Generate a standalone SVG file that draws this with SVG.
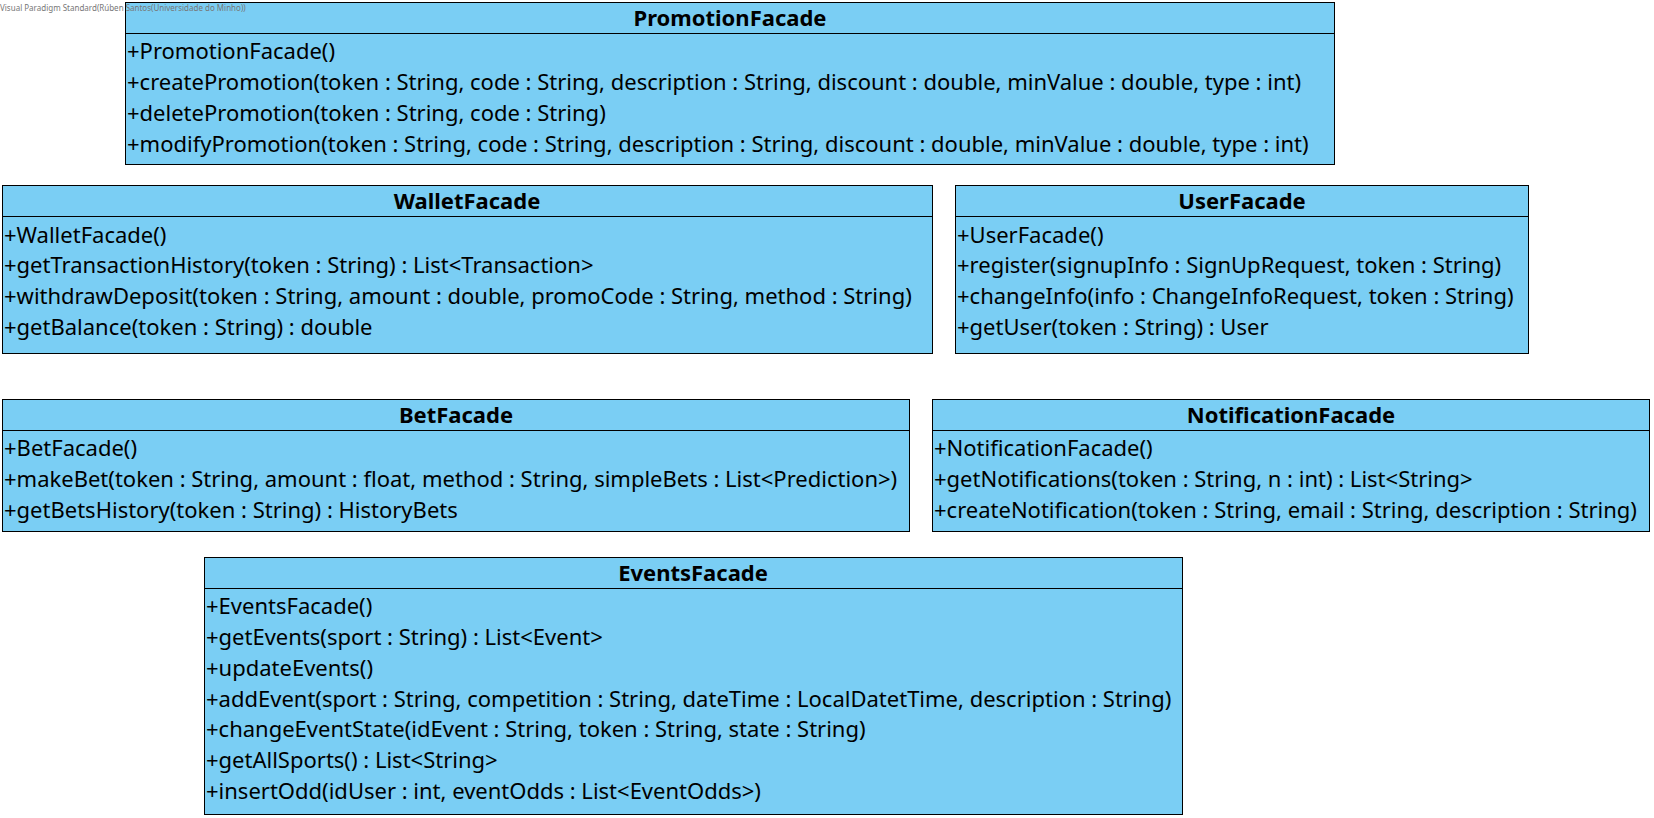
<svg xmlns="http://www.w3.org/2000/svg" width="1654" height="818" viewBox="0 0 1654 818">
<style>
.box{fill:#7ACEF4;stroke:#000;stroke-width:1}
.sep{stroke:#000;stroke-width:1}
.t{font-family:"Noto Sans",sans-serif;font-size:22px;fill:#000;dominant-baseline:central}
.h{font-family:"Noto Sans",sans-serif;font-size:22px;font-weight:bold;fill:#000;dominant-baseline:central;text-anchor:middle}
.wm{font-family:"Noto Sans",sans-serif;font-size:8px;fill:#777;dominant-baseline:central}
</style>
<rect width="1654" height="818" fill="#fff"/>
<g id="PromotionFacade">
<rect class="box" x="125.5" y="2.5" width="1209" height="162"/>
<line class="sep" x1="125.5" y1="33.5" x2="1334.5" y2="33.5"/>
<text class="h" x="730" y="17">PromotionFacade</text>
<text class="t" x="127" y="49.5">+PromotionFacade()</text>
<text class="t" x="127" y="81">+createPromotion(token : String, code : String, description : String, discount : double, minValue : double, type : int)</text>
<text class="t" x="127" y="112">+deletePromotion(token : String, code : String)</text>
<text class="t" x="127" y="143">+modifyPromotion(token : String, code : String, description : String, discount : double, minValue : double, type : int)</text>
</g>
<g id="WalletFacade">
<rect class="box" x="2.5" y="185.5" width="930" height="168"/>
<line class="sep" x1="2.5" y1="216.5" x2="932.5" y2="216.5"/>
<text class="h" x="467" y="199.5">WalletFacade</text>
<text class="t" x="4" y="233.5">+WalletFacade()</text>
<text class="t" x="4" y="264">+getTransactionHistory(token : String) : List&lt;Transaction&gt;</text>
<text class="t" x="4" y="295">+withdrawDeposit(token : String, amount : double, promoCode : String, method : String)</text>
<text class="t" x="4" y="325.5">+getBalance(token : String) : double</text>
</g>
<g id="UserFacade">
<rect class="box" x="955.5" y="185.5" width="573" height="168"/>
<line class="sep" x1="955.5" y1="216.5" x2="1528.5" y2="216.5"/>
<text class="h" x="1242" y="199.5">UserFacade</text>
<text class="t" x="957" y="233.5">+UserFacade()</text>
<text class="t" x="957" y="264">+register(signupInfo : SignUpRequest, token : String)</text>
<text class="t" x="957" y="295">+changeInfo(info : ChangeInfoRequest, token : String)</text>
<text class="t" x="957" y="325.5">+getUser(token : String) : User</text>
</g>
<g id="BetFacade">
<rect class="box" x="2.5" y="399.5" width="907" height="132"/>
<line class="sep" x1="2.5" y1="430.5" x2="909.5" y2="430.5"/>
<text class="h" x="456" y="413.5">BetFacade</text>
<text class="t" x="4" y="446.5">+BetFacade()</text>
<text class="t" x="4" y="478">+makeBet(token : String, amount : float, method : String, simpleBets : List&lt;Prediction&gt;)</text>
<text class="t" x="4" y="508.5">+getBetsHistory(token : String) : HistoryBets</text>
</g>
<g id="NotificationFacade">
<rect class="box" x="932.5" y="399.5" width="717" height="132"/>
<line class="sep" x1="932.5" y1="430.5" x2="1649.5" y2="430.5"/>
<text class="h" x="1291" y="413.5">NotificationFacade</text>
<text class="t" x="934" y="446.5">+NotificationFacade()</text>
<text class="t" x="934" y="478">+getNotifications(token : String, n : int) : List&lt;String&gt;</text>
<text class="t" x="934" y="508.5">+createNotification(token : String, email : String, description : String)</text>
</g>
<g id="EventsFacade">
<rect class="box" x="204.5" y="557.5" width="978" height="257"/>
<line class="sep" x1="204.5" y1="588.5" x2="1182.5" y2="588.5"/>
<text class="h" x="693" y="572">EventsFacade</text>
<text class="t" x="206" y="604.5">+EventsFacade()</text>
<text class="t" x="206" y="635.5">+getEvents(sport : String) : List&lt;Event&gt;</text>
<text class="t" x="206" y="666.5">+updateEvents()</text>
<text class="t" x="206" y="697.5">+addEvent(sport : String, competition : String, dateTime : LocalDatetTime, description : String)</text>
<text class="t" x="206" y="728">+changeEventState(idEvent : String, token : String, state : String)</text>
<text class="t" x="206" y="758.5">+getAllSports() : List&lt;String&gt;</text>
<text class="t" x="206" y="789.5">+insertOdd(idUser : int, eventOdds : List&lt;EventOdds&gt;)</text>
</g>
<g id="connectors"></g>
<text class="wm" x="0" y="7">Visual Paradigm Standard(Rúben Santos(Universidade do Minho))</text>
</svg>
